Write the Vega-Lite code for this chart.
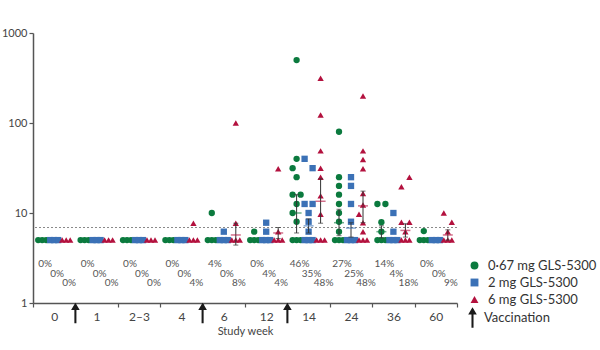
{
  "$schema": "https://vega.github.io/schema/vega-lite/v6.json",
  "width": 424,
  "height": 270,
  "autosize": {"type": "none"},
  "padding": {"left": 33, "top": 33, "right": 143, "bottom": 47},
  "background": "white",
  "config": {"font": "Lato", "view": {"stroke": null}},
  "datasets": {
    "pts": [
      {"w":"0","d":"G","v":5,"c":"L"},{"w":"0","d":"G","v":5,"c":"C"},{"w":"0","d":"G","v":5,"c":"R"},
      {"w":"0","d":"B","v":5,"c":"L"},{"w":"0","d":"B","v":5,"c":"C"},{"w":"0","d":"B","v":5,"c":"R"},
      {"w":"0","d":"R","v":5,"c":"L"},{"w":"0","d":"R","v":5,"c":"C"},{"w":"0","d":"R","v":5,"c":"R"},
      {"w":"1","d":"G","v":5,"c":"L"},{"w":"1","d":"G","v":5,"c":"C"},{"w":"1","d":"G","v":5,"c":"R"},
      {"w":"1","d":"B","v":5,"c":"L"},{"w":"1","d":"B","v":5,"c":"C"},{"w":"1","d":"B","v":5,"c":"R"},
      {"w":"1","d":"R","v":5,"c":"L"},{"w":"1","d":"R","v":5,"c":"C"},{"w":"1","d":"R","v":5,"c":"R"},
      {"w":"2–3","d":"G","v":5,"c":"L"},{"w":"2–3","d":"G","v":5,"c":"C"},{"w":"2–3","d":"G","v":5,"c":"R"},
      {"w":"2–3","d":"B","v":5,"c":"L"},{"w":"2–3","d":"B","v":5,"c":"C"},{"w":"2–3","d":"B","v":5,"c":"R"},
      {"w":"2–3","d":"R","v":5,"c":"L"},{"w":"2–3","d":"R","v":5,"c":"C"},{"w":"2–3","d":"R","v":5,"c":"R"},
      {"w":"4","d":"G","v":5,"c":"L"},{"w":"4","d":"G","v":5,"c":"C"},{"w":"4","d":"G","v":5,"c":"R"},
      {"w":"4","d":"B","v":5,"c":"L"},{"w":"4","d":"B","v":5,"c":"C"},{"w":"4","d":"B","v":5,"c":"R"},
      {"w":"4","d":"R","v":5,"c":"L"},{"w":"4","d":"R","v":5,"c":"C"},{"w":"4","d":"R","v":5,"c":"R"},
      {"w":"6","d":"G","v":5,"c":"L"},{"w":"6","d":"G","v":5,"c":"C"},{"w":"6","d":"G","v":5,"c":"R"},
      {"w":"6","d":"B","v":5,"c":"L"},{"w":"6","d":"B","v":5,"c":"C"},{"w":"6","d":"B","v":5,"c":"R"},
      {"w":"6","d":"R","v":5,"c":"L"},{"w":"6","d":"R","v":5,"c":"C"},{"w":"6","d":"R","v":5,"c":"R"},
      {"w":"12","d":"G","v":5,"c":"L"},{"w":"12","d":"G","v":5,"c":"C"},{"w":"12","d":"G","v":5,"c":"R"},
      {"w":"12","d":"B","v":5,"c":"L"},{"w":"12","d":"B","v":5,"c":"C"},{"w":"12","d":"B","v":5,"c":"R"},
      {"w":"12","d":"R","v":5,"c":"L"},{"w":"12","d":"R","v":5,"c":"C"},{"w":"12","d":"R","v":5,"c":"R"},
      {"w":"14","d":"G","v":5,"c":"L"},{"w":"14","d":"G","v":5,"c":"C"},{"w":"14","d":"G","v":5,"c":"R"},
      {"w":"14","d":"B","v":5,"c":"L"},{"w":"14","d":"B","v":5,"c":"C"},{"w":"14","d":"B","v":5,"c":"R"},
      {"w":"14","d":"R","v":5,"c":"L"},{"w":"14","d":"R","v":5,"c":"C"},{"w":"14","d":"R","v":5,"c":"R"},
      {"w":"24","d":"G","v":5,"c":"L"},{"w":"24","d":"G","v":5,"c":"C"},{"w":"24","d":"G","v":5,"c":"R"},
      {"w":"24","d":"B","v":5,"c":"L"},{"w":"24","d":"B","v":5,"c":"C"},{"w":"24","d":"B","v":5,"c":"R"},
      {"w":"24","d":"R","v":5,"c":"L"},{"w":"24","d":"R","v":5,"c":"C"},{"w":"24","d":"R","v":5,"c":"R"},
      {"w":"36","d":"G","v":5,"c":"L"},{"w":"36","d":"G","v":5,"c":"C"},{"w":"36","d":"G","v":5,"c":"R"},
      {"w":"36","d":"B","v":5,"c":"L"},{"w":"36","d":"B","v":5,"c":"C"},{"w":"36","d":"B","v":5,"c":"R"},
      {"w":"36","d":"R","v":5,"c":"L"},{"w":"36","d":"R","v":5,"c":"C"},{"w":"36","d":"R","v":5,"c":"R"},
      {"w":"60","d":"G","v":5,"c":"L"},{"w":"60","d":"G","v":5,"c":"C"},{"w":"60","d":"G","v":5,"c":"R"},
      {"w":"60","d":"B","v":5,"c":"L"},{"w":"60","d":"B","v":5,"c":"C"},{"w":"60","d":"B","v":5,"c":"R"},
      {"w":"60","d":"R","v":5,"c":"L"},{"w":"60","d":"R","v":5,"c":"C"},{"w":"60","d":"R","v":5,"c":"R"},
      {"w":"4","d":"R","v":7.7,"c":"C"},
      {"w":"6","d":"G","v":10,"c":"C"},
      {"w":"6","d":"B","v":6.2,"c":"C"},
      {"w":"6","d":"R","v":100,"c":"C"},{"w":"6","d":"R","v":7.7,"c":"C"},
      {"w":"12","d":"G","v":6.2,"c":"C"},
      {"w":"12","d":"B","v":7.8,"c":"C"},{"w":"12","d":"B","v":6.2,"c":"C"},
      {"w":"12","d":"R","v":31,"c":"C"},{"w":"12","d":"R","v":6.2,"c":"C"},
      {"w":"14","d":"G","v":500,"c":"C"},{"w":"14","d":"G","v":40,"c":"C"},{"w":"14","d":"G","v":31.5,"c":"L"},
      {"w":"14","d":"G","v":25,"c":"C"},{"w":"14","d":"G","v":16,"c":"L"},{"w":"14","d":"G","v":16,"c":"R"},
      {"w":"14","d":"G","v":12.6,"c":"C"},{"w":"14","d":"G","v":10,"c":"L"},{"w":"14","d":"G","v":8,"c":"C"},
      {"w":"14","d":"B","v":40,"c":"L"},{"w":"14","d":"B","v":31.5,"c":"R"},{"w":"14","d":"B","v":12.6,"c":"L"},
      {"w":"14","d":"B","v":12.6,"c":"R"},{"w":"14","d":"B","v":10,"c":"C"},{"w":"14","d":"B","v":8,"c":"C"},
      {"w":"14","d":"B","v":6.2,"c":"C"},
      {"w":"14","d":"R","v":314,"c":"C"},{"w":"14","d":"R","v":123,"c":"C"},{"w":"14","d":"R","v":49,"c":"C"},
      {"w":"14","d":"R","v":31.5,"c":"C"},{"w":"14","d":"R","v":25,"c":"C"},{"w":"14","d":"R","v":15.5,"c":"C"},
      {"w":"14","d":"R","v":9.7,"c":"C"},
      {"w":"24","d":"G","v":80,"c":"C"},{"w":"24","d":"G","v":25,"c":"C"},{"w":"24","d":"G","v":20,"c":"C"},
      {"w":"24","d":"G","v":16,"c":"C"},{"w":"24","d":"G","v":12.6,"c":"C"},{"w":"24","d":"G","v":10,"c":"C"},
      {"w":"24","d":"G","v":8,"c":"C"},{"w":"24","d":"G","v":6.2,"c":"C"},
      {"w":"24","d":"B","v":25,"c":"C"},{"w":"24","d":"B","v":20,"c":"C"},{"w":"24","d":"B","v":12.6,"c":"C"},
      {"w":"24","d":"B","v":8,"c":"C"},
      {"w":"24","d":"R","v":200,"c":"C"},{"w":"24","d":"R","v":49,"c":"C"},{"w":"24","d":"R","v":39.4,"c":"C"},
      {"w":"24","d":"R","v":31,"c":"C"},{"w":"24","d":"R","v":16.5,"c":"C"},{"w":"24","d":"R","v":12.3,"c":"C"},
      {"w":"24","d":"R","v":9.7,"c":"L"},{"w":"24","d":"R","v":7.8,"c":"C"},{"w":"24","d":"R","v":6.2,"c":"C"},
      {"w":"36","d":"G","v":12.6,"c":"L"},{"w":"36","d":"G","v":12.6,"c":"R"},{"w":"36","d":"G","v":7.9,"c":"C"},
      {"w":"36","d":"G","v":6.2,"c":"C"},
      {"w":"36","d":"B","v":10,"c":"C"},{"w":"36","d":"B","v":6.2,"c":"C"},
      {"w":"36","d":"R","v":25,"c":"R"},{"w":"36","d":"R","v":19.6,"c":"L"},{"w":"36","d":"R","v":7.9,"c":"L"},
      {"w":"36","d":"R","v":7.9,"c":"R"},{"w":"36","d":"R","v":6.2,"c":"C"},
      {"w":"60","d":"G","v":6.3,"c":"C"},
      {"w":"60","d":"R","v":10,"c":"L"},{"w":"60","d":"R","v":7.9,"c":"R"},{"w":"60","d":"R","v":6.2,"c":"C"}
    ],
    "ci": [
      {"w":"6","d":"R","m":5.7,"lo":4.4,"hi":7.7},
      {"w":"12","d":"R","m":6.0,"lo":5.2,"hi":6.9},
      {"w":"14","d":"G","m":10,"lo":6.0,"hi":16},
      {"w":"14","d":"B","m":7.2,"lo":6.0,"hi":8.6},
      {"w":"14","d":"R","m":13.5,"lo":7.7,"hi":24},
      {"w":"24","d":"G","m":7.8,"lo":5.6,"hi":11},
      {"w":"24","d":"B","m":6.8,"lo":5.4,"hi":7.8},
      {"w":"24","d":"R","m":12,"lo":7.8,"hi":17.5},
      {"w":"36","d":"G","m":6.2,"lo":5.3,"hi":7.2},
      {"w":"36","d":"R","m":6.4,"lo":5.4,"hi":7.6},
      {"w":"60","d":"R","m":5.7,"lo":5.0,"hi":6.5}
    ],
    "pct": [
      {"w":"0","d":"G","p":0},{"w":"0","d":"B","p":0},{"w":"0","d":"R","p":0},
      {"w":"1","d":"G","p":0},{"w":"1","d":"B","p":0},{"w":"1","d":"R","p":0},
      {"w":"2–3","d":"G","p":0},{"w":"2–3","d":"B","p":0},{"w":"2–3","d":"R","p":0},
      {"w":"4","d":"G","p":0},{"w":"4","d":"B","p":0},{"w":"4","d":"R","p":0.04},
      {"w":"6","d":"G","p":0.04},{"w":"6","d":"B","p":0},{"w":"6","d":"R","p":0.08},
      {"w":"12","d":"G","p":0},{"w":"12","d":"B","p":0.04},{"w":"12","d":"R","p":0.04},
      {"w":"14","d":"G","p":0.46},{"w":"14","d":"B","p":0.35},{"w":"14","d":"R","p":0.48},
      {"w":"24","d":"G","p":0.27},{"w":"24","d":"B","p":0.25},{"w":"24","d":"R","p":0.48},
      {"w":"36","d":"G","p":0.14},{"w":"36","d":"B","p":0.04},{"w":"36","d":"R","p":0.18},
      {"w":"60","d":"G","p":0},{"w":"60","d":"B","p":0},{"w":"60","d":"R","p":0.09}
    ],
    "vac": [
      {"w":"1","d":"Vaccination"},{"w":"6","d":"Vaccination"},{"w":"14","d":"Vaccination"}
    ]
  },
  "layer": [
    {
      "data": {"values": [{}]},
      "mark": {"type": "rule", "color": "#8a8a8a", "strokeWidth": 1, "strokeDash": [2, 2]},
      "encoding": {"y": {"datum": 6.9, "type": "quantitative"}}
    },
    {
      "data": {"name": "pts"},
      "transform": [{"calculate": "datum.d + datum.c", "as": "k"}],
      "mark": {"type": "point", "filled": true, "opacity": 1, "strokeWidth": 0, "size": 40},
      "encoding": {
        "x": {
          "field": "w", "type": "nominal",
          "sort": ["0","1","2–3","4","6","12","14","24","36","60"],
          "scale": {"type": "band", "domain": ["0","1","2–3","4","6","12","14","24","36","60"], "paddingInner": 0, "paddingOuter": 0},
          "axis": {
            "title": "Study week", "tickBand": "extent", "labelAngle": 0,
            "domainColor": "#555", "domainWidth": 1.5, "tickColor": "#555", "tickWidth": 1.2, "tickSize": 4,
            "labelFontSize": 12, "labelColor": "#444", "labelPadding": 4,
            "titleFontSize": 11, "titleFontWeight": "normal", "titleColor": "#444", "titlePadding": 3
          }
        },
        "xOffset": {
          "field": "k", "type": "nominal",
          "scale": {"domain": ["GL","GC","GR","BL","BC","BR","RL","RC","RR"], "paddingInner": 0, "paddingOuter": 0.8}
        },
        "y": {
          "field": "v", "type": "quantitative",
          "scale": {"type": "log", "domain": [1, 1000], "nice": false},
          "axis": {
            "title": null, "values": [1, 10, 100, 1000], "format": "d", "grid": false,
            "domainColor": "#555", "domainWidth": 1.5, "tickColor": "#555", "tickWidth": 1.2, "tickSize": 4,
            "labelFontSize": 11, "labelColor": "#444", "labelPadding": 2
          }
        },
        "color": {
          "field": "d", "type": "nominal",
          "scale": {"domain": ["G","B","R"], "range": ["#0b7a3e","#3b71b6","#b3113e"]},
          "legend": {
            "title": null, "orient": "none", "legendX": 435, "legendY": 226, "padding": 0,
            "labelExpr": "datum.label == 'G' ? '0·67 mg GLS-5300' : datum.label == 'B' ? '2 mg GLS-5300' : '6 mg GLS-5300'",
            "labelFontSize": 13, "labelColor": "#333", "labelOffset": 7, "rowPadding": 3,
            "symbolSize": 62, "symbolStrokeWidth": 0
          }
        },
        "shape": {
          "field": "d", "type": "nominal",
          "scale": {"domain": ["G","B","R"], "range": ["circle","square","triangle-up"]}
        }
      }
    },
    {
      "data": {"name": "ci"},
      "transform": [{"calculate": "datum.d + 'C'", "as": "k"}],
      "mark": {"type": "rule", "color": "#333", "strokeWidth": 1},
      "encoding": {
        "x": {"field": "w", "type": "nominal"},
        "xOffset": {"field": "k", "type": "nominal"},
        "y": {"field": "lo", "type": "quantitative"},
        "y2": {"field": "hi"}
      }
    },
    {
      "data": {"name": "ci"},
      "transform": [{"calculate": "datum.d + 'C'", "as": "k"}, {"fold": ["lo", "hi"], "as": ["kind", "val"]}],
      "mark": {"type": "tick", "color": "#333", "size": 5, "thickness": 1},
      "encoding": {
        "x": {"field": "w", "type": "nominal"},
        "xOffset": {"field": "k", "type": "nominal"},
        "y": {"field": "val", "type": "quantitative"}
      }
    },
    {
      "data": {"name": "ci"},
      "transform": [{"calculate": "datum.d + 'C'", "as": "k"}],
      "mark": {"type": "tick", "size": 10, "thickness": 1.5, "opacity": 0.6},
      "encoding": {
        "x": {"field": "w", "type": "nominal"},
        "xOffset": {"field": "k", "type": "nominal"},
        "y": {"field": "m", "type": "quantitative"},
        "color": {"field": "d", "type": "nominal"}
      }
    },
    {
      "data": {"name": "pct"},
      "transform": [{"filter": "datum.d == 'G'"}, {"calculate": "datum.d + 'C'", "as": "k"}],
      "mark": {"type": "text", "baseline": "middle", "dy": -39, "dx": 3, "fontSize": 10, "color": "#555"},
      "encoding": {
        "x": {"field": "w", "type": "nominal"},
        "xOffset": {"field": "k", "type": "nominal"},
        "y": {"datum": 1, "type": "quantitative"},
        "text": {"field": "p", "type": "quantitative", "format": ".0%"}
      }
    },
    {
      "data": {"name": "pct"},
      "transform": [{"filter": "datum.d == 'B'"}, {"calculate": "datum.d + 'C'", "as": "k"}],
      "mark": {"type": "text", "baseline": "middle", "dy": -29, "dx": 3, "fontSize": 10, "color": "#555"},
      "encoding": {
        "x": {"field": "w", "type": "nominal"},
        "xOffset": {"field": "k", "type": "nominal"},
        "y": {"datum": 1, "type": "quantitative"},
        "text": {"field": "p", "type": "quantitative", "format": ".0%"}
      }
    },
    {
      "data": {"name": "pct"},
      "transform": [{"filter": "datum.d == 'R'"}, {"calculate": "datum.d + 'C'", "as": "k"}],
      "mark": {"type": "text", "baseline": "middle", "dy": -20, "dx": 3, "fontSize": 10, "color": "#555"},
      "encoding": {
        "x": {"field": "w", "type": "nominal"},
        "xOffset": {"field": "k", "type": "nominal"},
        "y": {"datum": 1, "type": "quantitative"},
        "text": {"field": "p", "type": "quantitative", "format": ".0%"}
      }
    },
    {
      "data": {"name": "vac"},
      "mark": {
        "type": "point", "filled": true, "strokeWidth": 0, "yOffset": 10, "size": 420, "color": "#1a1a1a",
        "shape": "M0,-1L0.42,-0.3L0.1,-0.3L0.1,1L-0.1,1L-0.1,-0.3L-0.42,-0.3Z"
      },
      "encoding": {
        "x": {"field": "w", "type": "nominal", "bandPosition": 0},
        "y": {"datum": 1, "type": "quantitative"},
        "opacity": {
          "field": "d", "type": "nominal",
          "scale": {"domain": ["Vaccination"], "range": [1]},
          "legend": {
            "title": null, "orient": "none", "legendX": 429, "legendY": 274, "padding": 0,
            "labelFontSize": 13, "labelColor": "#333", "labelOffset": 1,
            "symbolType": "M0,-1L0.42,-0.3L0.1,-0.3L0.1,1L-0.1,1L-0.1,-0.3L-0.42,-0.3Z",
            "symbolSize": 420, "symbolFillColor": "#1a1a1a", "symbolStrokeWidth": 0
          }
        }
      }
    }
  ]
}
